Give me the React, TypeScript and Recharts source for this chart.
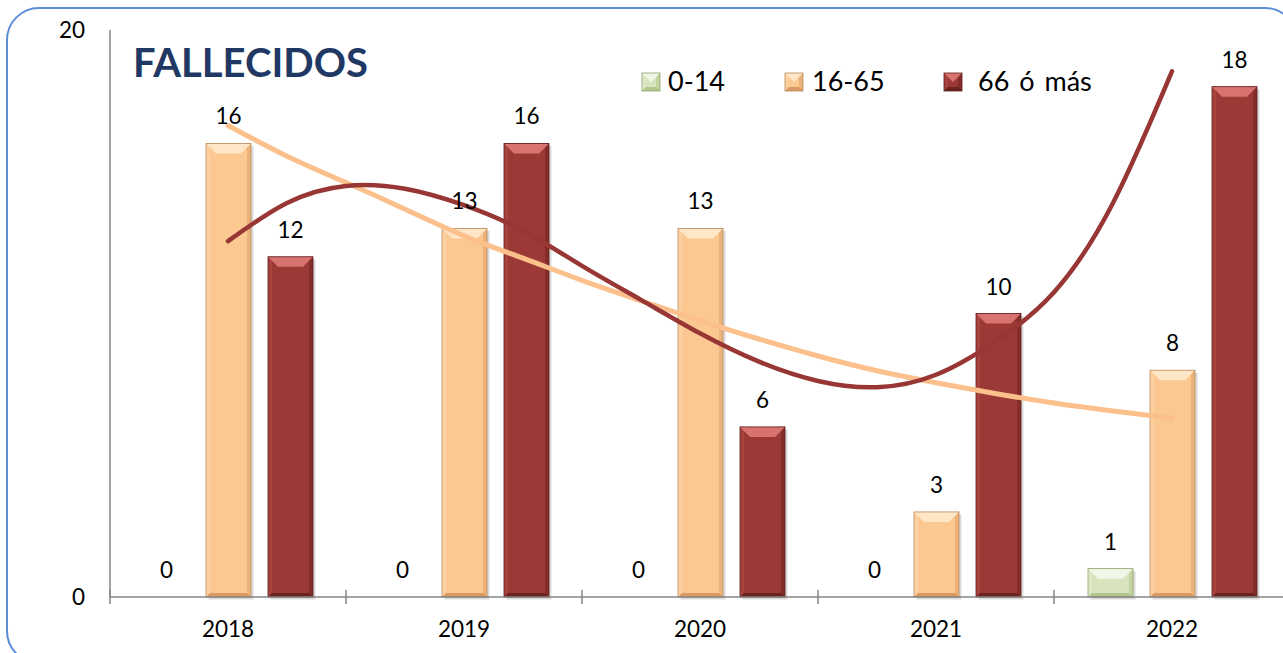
import React from 'react';
import { ComposedChart, Bar, Line, XAxis, YAxis, LabelList, Legend } from 'recharts';

const years = ['2018', '2019', '2020', '2021', '2022'];
const age0to14 = [0, 0, 0, 0, 1];
const age16to65 = [16, 13, 13, 3, 8];
const age66plus = [12, 16, 6, 10, 18];
const seriesNames = ['0-14', '16-65', '66 ó más'];
const yTicks = [0, 20];
const chartTitle = 'FALLECIDOS';

// trend lines, at quarter-category steps
const trendX = [0, 0.25, 0.5, 0.75, 1, 1.25, 1.5, 1.75, 2, 2.25, 2.5, 2.75, 3, 3.25, 3.5, 3.75, 4];
const trend16to65 = [16.63, 15.55, 14.62, 13.68, 12.74, 11.95, 11.17, 10.45, 9.75, 9.1, 8.5, 7.98, 7.56, 7.18, 6.84, 6.56, 6.31];
const trend66plus = [12.55, 13.9, 14.5, 14.4, 13.82, 12.92, 11.68, 10.48, 9.3, 8.3, 7.62, 7.4, 7.84, 9.0, 10.75, 13.9, 18.54];

const FONT = 'Lato, Carlito, Calibri, "Open Sans", sans-serif';

const chartData = years.map((year, i) => ({
  year,
  a: age0to14[i],
  b: age16to65[i],
  c: age66plus[i],
}));
const trendOrange = trendX.map((x, i) => ({ x, v: trend16to65[i] }));
const trendRed = trendX.map((x, i) => ({ x, v: trend66plus[i] }));
const xTicks = [...years.flatMap((_, i) => [i - 0.5, i]), years.length - 0.5];

type Pal = { base: string; top: string; left: string; right: string; bottom: string; stroke: string };
const PAL: Record<string, Pal> = {
  green: { base: '#D7E4BD', top: '#F1F7E6', left: '#DDE9C6', right: '#C4D5A2', bottom: '#B2C68C', stroke: '#8FA06C' },
  orange: { base: '#FCC891', top: '#FFE6C6', left: '#FDD0A0', right: '#EDB27A', bottom: '#D89A62', stroke: '#B98A5E' },
  red: { base: '#9B3937', top: '#D9736F', left: '#A7423F', right: '#852D2B', bottom: '#6A2220', stroke: '#5A1C1B' },
};
const palByName: Record<string, Pal> = { '0-14': PAL.green, '16-65': PAL.orange, '66 ó más': PAL.red };

function BevelRect({ x, y, w, h, pal, shadow = true }: { x: number; y: number; w: number; h: number; pal: Pal; shadow?: boolean }) {
  const bt = Math.min(10, h / 2, w / 2);
  const bs = Math.min(4, w / 4);
  const bb = Math.min(4, h / 4);
  return (
    <g>
      {shadow && <rect x={x + 2.5} y={y + 2.5} width={w} height={h} fill="rgba(0,0,0,0.14)" />}
      <rect x={x} y={y} width={w} height={h} fill={pal.base} />
      <rect x={x} y={y} width={bs} height={h} fill={pal.left} />
      <rect x={x + w - bs} y={y} width={bs} height={h} fill={pal.right} />
      <polygon points={`${x},${y + h} ${x + w},${y + h} ${x + w - bs},${y + h - bb} ${x + bs},${y + h - bb}`} fill={pal.bottom} />
      <polygon points={`${x},${y} ${x + w},${y} ${x + w - bt},${y + bt} ${x + bt},${y + bt}`} fill={pal.top} />
      <rect x={x} y={y} width={w} height={h} fill="none" stroke={pal.stroke} strokeWidth={0.8} />
    </g>
  );
}

const makeShape = (pal: Pal) => (props: any) => {
  const { x, y, width, height } = props;
  if (!height || height <= 0.5) return <g />;
  return <BevelRect x={x} y={y} w={width} h={height} pal={pal} />;
};

const XTick = (props: any) => {
  const { x, y, payload } = props;
  const v = payload.value;
  if (!Number.isInteger(v)) {
    return <line x1={x} x2={x} y1={y - 7} y2={y + 7} stroke="#868686" strokeWidth={1.5} />;
  }
  return (
    <text x={x} y={y + 40} textAnchor="middle" fontSize={22.5} fill="#000" fontFamily={FONT}>
      {years[v]}
    </text>
  );
};

const legendX = [642, 785, 944];
const legendTextGap = [26, 27, 34];

const LegendContent = (props: any) => {
  const payload: any[] = props.payload || [];
  return (
    <svg width={1300} height={110} style={{ display: 'block', overflow: 'visible' }}>
      <text x={133} y={77} fontSize={40} fontWeight={700} fill="#1F3864" fontFamily={FONT}>
        {chartTitle}
      </text>
      {payload.map((e: any) => {
        const name = String(e.value);
        const idx = seriesNames.indexOf(name);
        if (idx < 0) return null;
        const lx = legendX[idx];
        return (
          <g key={name}>
            <BevelRect x={lx} y={73} w={18} h={18} pal={palByName[name]} shadow={false} />
            <text x={lx + legendTextGap[idx]} y={91} fontSize={27} fill="#000" fontFamily={FONT} wordSpacing={3}>
              {name}
            </text>
          </g>
        );
      })}
    </svg>
  );
};

const labelProps = { position: 'top' as const, offset: 19, fontSize: 22.5, fill: '#000', fontFamily: FONT };

export default function App() {
  return (
    <div style={{ position: 'fixed', left: 0, top: 0, width: 1283, height: 653, overflow: 'hidden', background: '#fff' }}>
      <ComposedChart
        width={1300}
        height={653}
        data={chartData}
        margin={{ top: 30, right: 10, bottom: 6, left: 50 }}
        barSize={45}
        barGap={17}
      >
        <XAxis
          xAxisId="num"
          dataKey="x"
          type="number"
          domain={[-0.5, 4.5]}
          allowDataOverflow
          ticks={xTicks}
          interval={0}
          tick={<XTick />}
          tickLine={false}
          tickSize={0}
          tickMargin={0}
          height={50}
          axisLine={{ stroke: '#868686', strokeWidth: 1.5 }}
        />
        <XAxis xAxisId="cat" dataKey="year" type="category" hide height={0} />
        <YAxis
          domain={[0, 20]}
          ticks={yTicks}
          interval={0}
          width={60}
          tickLine={false}
          tickSize={0}
          tickMargin={25}
          axisLine={{ stroke: '#868686', strokeWidth: 1.5 }}
          tick={{ fontSize: 22.5, fill: '#000', fontFamily: FONT }}
        />
        <Legend
          layout="horizontal"
          verticalAlign="middle"
          align="center"
          wrapperStyle={{ position: 'absolute', left: 0, top: 0, width: 1300, height: 110 }}
          content={<LegendContent />}
        />
        <Bar xAxisId="cat" dataKey="a" name={seriesNames[0]} fill={PAL.green.base} shape={makeShape(PAL.green)} isAnimationActive={false}>
          <LabelList dataKey="a" {...labelProps} />
        </Bar>
        <Bar xAxisId="cat" dataKey="b" name={seriesNames[1]} fill={PAL.orange.base} shape={makeShape(PAL.orange)} isAnimationActive={false}>
          <LabelList dataKey="b" {...labelProps} />
        </Bar>
        <Bar xAxisId="cat" dataKey="c" name={seriesNames[2]} fill={PAL.red.base} shape={makeShape(PAL.red)} isAnimationActive={false}>
          <LabelList dataKey="c" {...labelProps} />
        </Bar>
        <Line
          xAxisId="num"
          data={trendOrange}
          dataKey="v"
          type="natural"
          stroke="#FBC08C"
          strokeWidth={5}
          strokeLinecap="round"
          dot={false}
          activeDot={false}
          legendType="none"
          isAnimationActive={false}
        />
        <Line
          xAxisId="num"
          data={trendRed}
          dataKey="v"
          type="natural"
          stroke="#973634"
          strokeWidth={4.5}
          strokeLinecap="round"
          dot={false}
          activeDot={false}
          legendType="none"
          isAnimationActive={false}
        />
      </ComposedChart>
      <svg width={1283} height={653} style={{ position: 'absolute', left: 0, top: 0, pointerEvents: 'none' }}>
        <rect x={7} y={8} width={1290} height={655} rx={32} ry={32} fill="none" stroke="#5B8ED6" strokeWidth={2} />
      </svg>
    </div>
  );
}
